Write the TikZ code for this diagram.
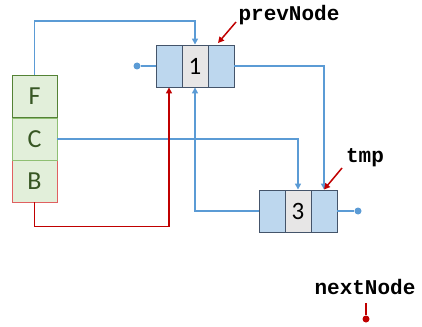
\documentclass[tikz,border=0pt]{standalone}
\usepackage{fontspec}
\setmainfont{Carlito}
\setmonofont{Liberation Mono}
\usetikzlibrary{arrows.meta}

\definecolor{ptrblue}{HTML}{5B9BD5}
\definecolor{cellblue}{HTML}{BDD7EE}
\definecolor{cellgrey}{HTML}{E7E6E6}
\definecolor{celledge}{HTML}{44546A}
\definecolor{ptrred}{HTML}{C00000}
\definecolor{stackfill}{HTML}{E2EFDA}
\definecolor{stackdark}{HTML}{548235}
\definecolor{stackmid}{HTML}{8FBF73}
\definecolor{stackred}{HTML}{E06060}
\definecolor{stacktext}{HTML}{375623}

\tikzset{
  cell/.style={draw=celledge, line width=0.9pt, fill=cellblue, minimum width=26pt, minimum height=42pt, inner sep=0pt},
  midcell/.style={cell, fill=cellgrey, font=\fontsize{25}{25}\selectfont},
  frame/.style={line width=0.9pt, fill=stackfill, minimum width=45pt, minimum height=42pt, inner sep=0pt, text=stacktext, font=\fontsize{26}{26}\selectfont},
  blueptr/.style={draw=ptrblue, line width=1.5pt, -{Triangle[width=6pt,length=6pt]}},
  blueline/.style={draw=ptrblue, line width=1.5pt},
  redptr/.style={draw=ptrred, line width=1.5pt, -{Triangle[width=6pt,length=6pt]}},
  dot/.style={circle, fill=#1, inner sep=0pt, minimum size=7pt},
  varname/.style={font=\ttfamily\bfseries\fontsize{21}{21}\selectfont}
}

\begin{document}
\begin{tikzpicture}[x=1pt, y=-1pt]
  \useasboundingbox (0,0) rectangle (422,326);

  % Stack frames
  \node[frame, draw=stackred] (B) at (34.5,181) {B};
  \node[frame, draw=stackmid] (C) at (34.5,139) {C};
  \node[frame, draw=stackdark] (F) at (34.5,96.5) {F};

  % Node 1
  \node[cell] (n1l) at (169,66) {};
  \node[midcell] (n1m) at (195,66) {1};
  \node[cell] (n1r) at (221,66) {};
  \node[dot=ptrblue] (n1dot) at (137,66) {};

  % Node 3
  \node[cell] (n3l) at (272,211) {};
  \node[midcell] (n3m) at (298,211) {3};
  \node[cell] (n3r) at (324,211) {};
  \node[dot=ptrblue] (n3dot) at (358,211) {};

  % Links between nodes
  \draw[blueline] (n1dot) -- (n1l.west);
  \draw[blueline] (n3r.east) -- (n3dot);
  \draw[blueptr] (n1r.east) -| (n3r.north);
  \draw[blueptr] (n3l.west) -| (n1m.south);

  % Links from the stack
  \draw[blueptr] (F.north) -- ++(0,-54) -| (n1m.north);
  \draw[blueptr] (C.east) -| (n3m.north);
  \draw[ptrred, line width=1.5pt, -{Triangle[width=6pt,length=6pt]}] (B.south) -- ++(0,24) -| (n1l.south);

  % Variable names
  \node[varname] (prev) at (289,15) {prevNode};
  \coordinate (prevtail) at (236,22);
  \coordinate (prevtip) at (218,43);
  \draw[redptr] (prevtail) -- (prevtip);

  \node[varname] (tmp) at (365,158) {tmp};
  \coordinate (tmptail) at (342,168);
  \draw[redptr] (tmptail) -- (n3r.north);

  \node[varname] (next) at (365,287) {nextNode};
  \coordinate (nexttail) at (366,303);
  \node[dot=ptrred] (nextdot) at (366,319) {};
  \draw[ptrred, line width=1.5pt] (nexttail) -- (nextdot);
\end{tikzpicture}
\end{document}
